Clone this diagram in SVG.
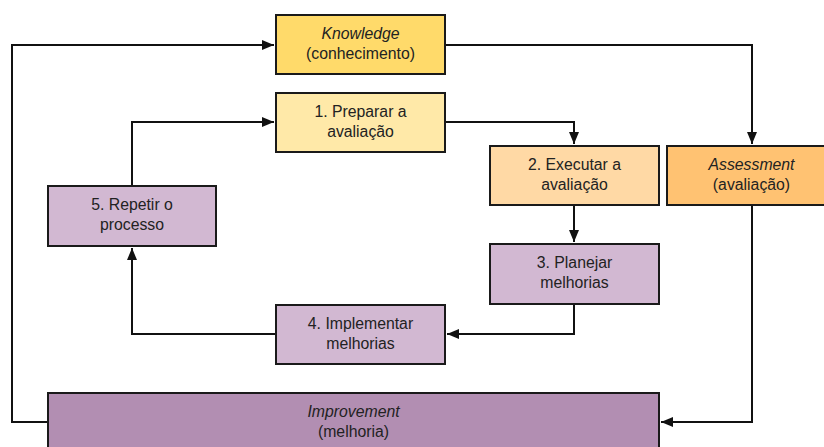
<svg xmlns="http://www.w3.org/2000/svg" width="824" height="447" viewBox="0 0 824 447">
<style>
.box{stroke:#1a1a1a;stroke-width:2}
.t{font-family:"Liberation Sans",Arial,sans-serif;font-size:15.8px;fill:#222;text-anchor:middle}
.i{font-style:italic}
.c{fill:none;stroke:#111;stroke-width:2}
</style>
<defs>
<marker id="a" viewBox="0 0 12 10" refX="12" refY="5" markerWidth="12" markerHeight="10" markerUnits="userSpaceOnUse" orient="auto">
<path d="M0,0 L12,5 L0,10 z" fill="#111"/>
</marker>
</defs>
<rect width="824" height="447" fill="#fff"/>
<g id="connectors">
<path class="c" d="M48,422 H12 V45 H274" marker-end="url(#a)"/>
<path class="c" d="M445,45 H752 V144" marker-end="url(#a)"/>
<path class="c" d="M752,205 V422 H661" marker-end="url(#a)"/>
<path class="c" d="M445,122 H574 V144" marker-end="url(#a)"/>
<path class="c" d="M574,205 V242" marker-end="url(#a)"/>
<path class="c" d="M574,304 V334 H447" marker-end="url(#a)"/>
<path class="c" d="M276,334 H132 V248" marker-end="url(#a)"/>
<path class="c" d="M132,186 V122 H274" marker-end="url(#a)"/>
</g>
<g id="knowledge">
<rect class="box" x="276" y="15" width="169" height="59" fill="#FFDA6A"/>
<text class="t i" x="360.5" y="38.5">Knowledge</text>
<text class="t" x="360.5" y="58.5">(conhecimento)</text>
</g>
<g id="step1">
<rect class="box" x="276" y="93" width="169" height="59" fill="#FFE9A8"/>
<text class="t" x="360.5" y="116.5">1. Preparar a</text>
<text class="t" x="360.5" y="136.5">avaliação</text>
</g>
<g id="step2">
<rect class="box" x="490" y="146" width="169" height="59" fill="#FFD9A5"/>
<text class="t" x="574.5" y="169.5">2. Executar a</text>
<text class="t" x="574.5" y="189.5">avaliação</text>
</g>
<g id="assessment">
<rect class="box" x="667" y="146" width="169" height="59" fill="#FFC272"/>
<text class="t i" x="751.5" y="169.5">Assessment</text>
<text class="t" x="751.5" y="189.5">(avaliação)</text>
</g>
<g id="step3">
<rect class="box" x="490" y="244" width="169" height="60" fill="#D2B8D2"/>
<text class="t" x="574.5" y="268">3. Planejar</text>
<text class="t" x="574.5" y="288">melhorias</text>
</g>
<g id="step4">
<rect class="box" x="276" y="305" width="169" height="59" fill="#D2B8D2"/>
<text class="t" x="360.5" y="328.5">4. Implementar</text>
<text class="t" x="360.5" y="348.5">melhorias</text>
</g>
<g id="step5">
<rect class="box" x="48" y="186" width="168" height="60" fill="#D2B8D2"/>
<text class="t" x="132" y="210">5. Repetir o</text>
<text class="t" x="132" y="230">processo</text>
</g>
<g id="improvement">
<rect class="box" x="48" y="393" width="611" height="60" fill="#B28EB2"/>
<text class="t i" x="353.5" y="417">Improvement</text>
<text class="t" x="353.5" y="437">(melhoria)</text>
</g>
</svg>
